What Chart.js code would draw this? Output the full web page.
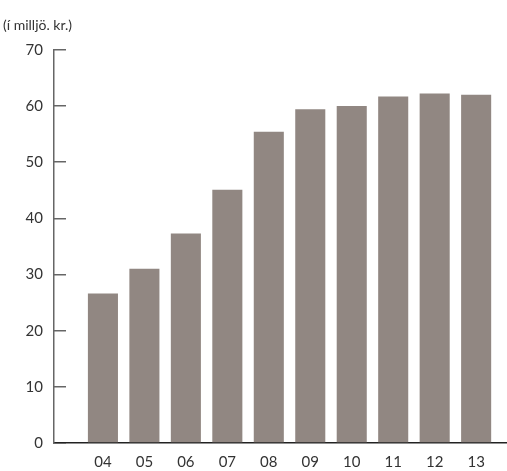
<!DOCTYPE html>
<html>
<head>
<meta charset="utf-8">
<script src="https://cdn.jsdelivr.net/npm/chart.js@4"></script>
<style>
html,body{margin:0;padding:0;background:#fff;}
#wrap{width:507px;height:471px;}
</style>
</head>
<body>
<div id="wrap"><canvas id="c" width="507" height="471"></canvas></div>
<script>
const categories = ['04','05','06','07','08','09','10','11','12','13'];
const values = [26.6, 31.0, 37.3, 45.1, 55.4, 59.4, 60.0, 61.7, 62.2, 62.0];
const yTicks = [0,10,20,30,40,50,60,70];
const unitLabel = '(í milljö. kr.)';

const FONT = 'Lato';
new Chart(document.getElementById('c'), {
  type: 'bar',
  data: {
    datasets: [{
      data: values.map((v,i)=>({x:i,y:v})),
      backgroundColor: '#918782',
      borderWidth: 0,
      categoryPercentage: 1,
      barPercentage: 0.725
    }]
  },
  options: {
    responsive: false,
    animation: false,
    devicePixelRatio: 1,
    layout: {padding: {left: 3, right: 1, top: 0, bottom: 0}},
    plugins: {
      legend: {display: false},
      tooltip: {enabled: false},
      title: {
        display: true,
        text: unitLabel,
        align: 'start',
        color: '#333',
        font: {family: FONT, size: 14, weight: 'normal'},
        padding: {top: 17, bottom: 16}
      }
    },
    scales: {
      x: {
        type: 'linear',
        offset: false,
        min: -1.18,
        max: 9.72,
        grid: {display: false, drawTicks: false},
        border: {display: true, color: '#222', width: 1.5},
        ticks: {
          stepSize: 1,
          includeBounds: false,
          autoSkip: false,
          maxRotation: 0,
          color: '#333',
          padding: 10,
          font: {family: FONT, size: 15},
          callback: (v) => Number.isInteger(v) && categories[v] !== undefined ? categories[v] : ''
        },
        afterFit: (s) => { s.height = 28; }
      },
      y: {
        type: 'linear',
        min: 0,
        max: 70,
        afterBuildTicks: (s) => { s.ticks = yTicks.map(v=>({value:v})); },
        grid: {drawOnChartArea: false, drawTicks: true, tickLength: -12, color: '#666', lineWidth: 1.5},
        border: {display: true, color: '#666', width: 1.5},
        ticks: {
          color: '#333',
          padding: 23,
          font: {family: FONT, size: 15}
        },
        afterFit: (s) => { s.width = 51; s.paddingTop = 9; s.paddingBottom = 9; }
      }
    }
  }
});
</script>
</body>
</html>
